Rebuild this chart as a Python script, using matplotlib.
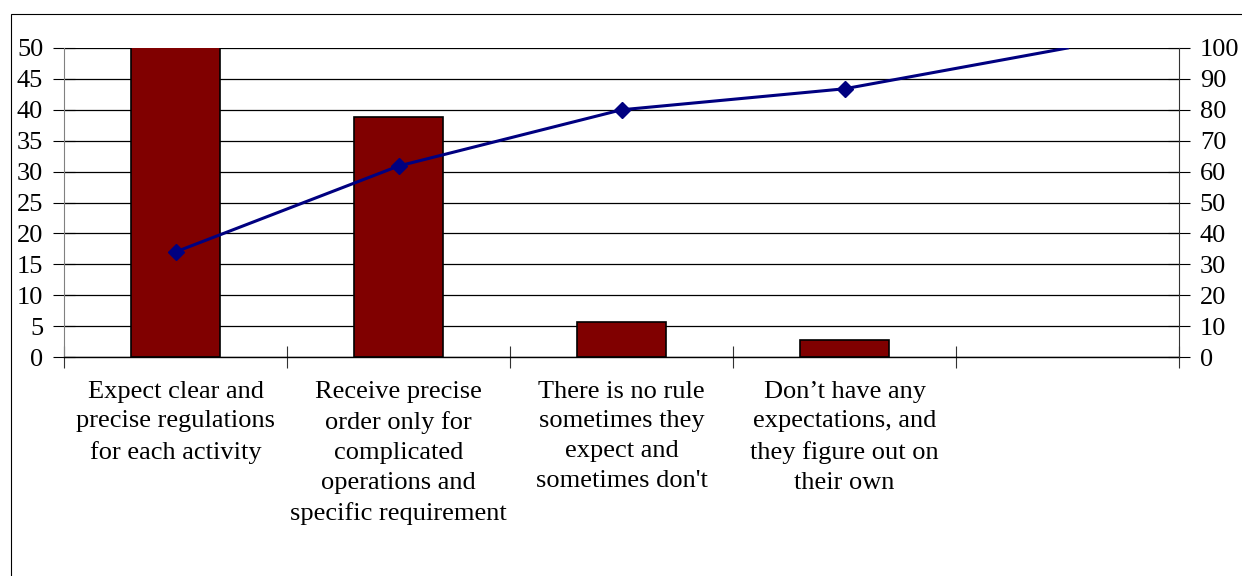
import numpy as np
import matplotlib
matplotlib.use("Agg")
from matplotlib import pyplot as plt
from matplotlib.patches import Rectangle

plt.rcParams["font.family"] = ["Liberation Serif", "DejaVu Serif"]

categories = [
    "Expect clear and\nprecise regulations\nfor each activity",
    "Receive precise\norder only for\ncomplicated\noperations and\nspecific requirement",
    "There is no rule\nsometimes they\nexpect and\nsometimes don't",
    "Don\u2019t have any\nexpectations, and\nthey figure out on\ntheir own",
    "",
]
counts = [52, 38.8, 5.6, 2.8, 0]
cumulative_pct = [34, 61.8, 80, 86.8, 100]

left_ticks = np.arange(0, 51, 5)
right_ticks = np.arange(0, 101, 10)

fig = plt.figure(figsize=(12.42, 5.76), dpi=100)

# outer chart frame (runs off the right and bottom edges)
frame = Rectangle((11 / 1242, -0.1), 1.2, 1 - 14 / 576 + 0.1,
                  transform=fig.transFigure, fill=False,
                  edgecolor="black", linewidth=0.8)
fig.patches.append(frame)

ax = fig.add_axes([64 / 1242, 1 - 357 / 576, (1179 - 64) / 1242, (357 - 48) / 576])
x = np.arange(len(categories))
counts_arr = np.array(counts)
has_bar = counts_arr > 0

ax.bar(x[has_bar], counts_arr[has_bar], width=0.4, color="#800000",
       edgecolor="black", linewidth=1.2, zorder=2)
ax.set_xlim(-0.5, len(categories) - 0.5)
ax.set_ylim(0, 50)
ax.set_yticks(left_ticks)
ax.yaxis.grid(True, color="black", linewidth=0.9, zorder=0)
ax.set_axisbelow(True)

ax.set_xticks(x[:4])
ax.set_xticklabels(categories[:4], fontsize=19, linespacing=1.46, va="top")
ax.tick_params(axis="x", length=0, pad=17)
ax.set_xticks(np.arange(-0.5, len(categories)), minor=True)
ax.tick_params(axis="x", which="minor", direction="inout", length=16,
               width=0.8, color="#333333")
ax.tick_params(axis="y", direction="inout", length=16, width=0.8,
               labelsize=19, pad=7)

ax.spines["top"].set_visible(False)
ax.spines["bottom"].set_color("black")
ax.spines["bottom"].set_linewidth(1.0)
ax.spines["left"].set_color("#808080")
ax.spines["right"].set_visible(False)

ax2 = ax.twinx()
ax2.set_ylim(0, 100)
ax2.set_yticks(right_ticks)
ax2.tick_params(axis="y", direction="inout", length=16, width=0.8,
                labelsize=19, pad=7)
for side in ["top", "bottom", "left"]:
    ax2.spines[side].set_visible(False)
ax2.spines["right"].set_color("#333333")
ax2.plot(x, cumulative_pct, color="#000080", linewidth=2.2,
         marker="D", markersize=8.5, markevery=[0, 1, 2, 3], zorder=3)

plt.savefig("out.png", dpi=100)
